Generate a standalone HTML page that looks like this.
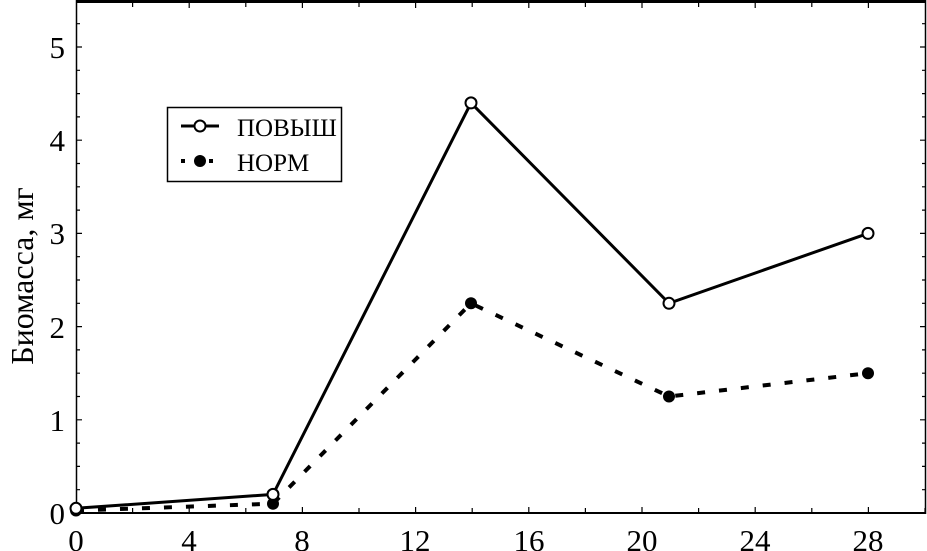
<!DOCTYPE html>
<html><head><meta charset="utf-8"><style>
html,body{margin:0;padding:0;background:#fff;}
svg{display:block;}
text{font-family:"Liberation Serif","DejaVu Serif",serif;fill:#000;}
</style></head><body>
<svg width="927" height="551" viewBox="0 0 927 551" xmlns="http://www.w3.org/2000/svg">
<line x1="76" y1="1.5" x2="926" y2="1.5" stroke="#000" stroke-width="3"/>
<line x1="76.5" y1="0" x2="76.5" y2="514" stroke="#000" stroke-width="1.5"/>
<line x1="925.5" y1="0" x2="925.5" y2="514" stroke="#000" stroke-width="1.5"/>
<line x1="76" y1="513" x2="926" y2="513" stroke="#000" stroke-width="2"/>
<g stroke="#000" stroke-width="1.2">
<path d="M132.6 513v-5M189.2 513v-6M245.8 513v-5M302.4 513v-6M359 513v-5M415.6 513v-6M472.2 513v-5M528.8 513v-6M585.4 513v-5M642 513v-6M698.6 513v-5M755.2 513v-6M811.8 513v-5M868.4 513v-6M925 513v-5"/>
<path d="M132.6 2v5M189.2 2v6M245.8 2v5M302.4 2v6M359 2v5M415.6 2v6M472.2 2v5M528.8 2v6M585.4 2v5M642 2v6M698.6 2v5M755.2 2v6M811.8 2v5M868.4 2v6"/>
<path d="M76 489.7h4M76 466.4h4M76 443.1h4M76 419.8h6M76 396.5h4M76 373.2h4M76 349.9h4M76 326.6h6M76 303.3h4M76 280h4M76 256.7h4M76 233.4h6M76 210.1h4M76 186.8h4M76 163.5h4M76 140.2h6M76 116.9h4M76 93.6h4M76 70.3h4M76 47h6M76 23.7h4"/>
<path d="M926 489.7h-4M926 466.4h-4M926 443.1h-4M926 419.8h-6M926 396.5h-4M926 373.2h-4M926 349.9h-4M926 326.6h-6M926 303.3h-4M926 280h-4M926 256.7h-4M926 233.4h-6M926 210.1h-4M926 186.8h-4M926 163.5h-4M926 140.2h-6M926 116.9h-4M926 93.6h-4M926 70.3h-4M926 47h-6M926 23.7h-4"/>
</g>
<g font-size="31" text-anchor="end">
<text x="65" y="524">0</text>
<text x="65" y="431">1</text>
<text x="65" y="338">2</text>
<text x="65" y="244">3</text>
<text x="65" y="151">4</text>
<text x="65" y="58">5</text>
</g>
<g font-size="31" text-anchor="middle">
<text x="76" y="551">0</text>
<text x="189" y="551">4</text>
<text x="302" y="551">8</text>
<text x="415" y="551">12</text>
<text x="529" y="551">16</text>
<text x="642" y="551">20</text>
<text x="755" y="551">24</text>
<text x="868" y="551">28</text>
</g>
<text transform="translate(33,276) rotate(-90)" font-size="32" text-anchor="middle">Биомасса, мг</text>
<polyline points="76,510.5 273,503.7 471,303.3 669,396.5 868,373.2" fill="none" stroke="#000" stroke-width="4" stroke-dasharray="8,14"/>
<polyline points="76,508.3 273,494.4 471,102.9 669,303.3 868,233.4" fill="none" stroke="#000" stroke-width="3"/>
<g fill="#000">
<circle cx="76" cy="510.5" r="6"/><circle cx="273" cy="503.7" r="6"/><circle cx="471" cy="303.3" r="6"/><circle cx="669" cy="396.5" r="6"/><circle cx="868" cy="373.2" r="6"/>
</g>
<g fill="#fff" stroke="#000" stroke-width="2">
<circle cx="76" cy="508.3" r="5.5"/><circle cx="273" cy="494.4" r="5.5"/><circle cx="471" cy="102.9" r="5.5"/><circle cx="669" cy="303.3" r="5.5"/><circle cx="868" cy="233.4" r="5.5"/>
</g>
<rect x="167.5" y="107.5" width="174" height="74" fill="#fff" stroke="#000" stroke-width="1.5"/>
<line x1="181" y1="126" x2="219" y2="126" stroke="#000" stroke-width="3"/>
<circle cx="200" cy="126" r="5.5" fill="#fff" stroke="#000" stroke-width="2"/>
<line x1="181" y1="161" x2="219" y2="161" stroke="#000" stroke-width="4" stroke-dasharray="4,10"/>
<circle cx="200" cy="161" r="6" fill="#000"/>
<text x="237" y="136" font-size="25">ПОВЫШ</text>
<text x="237" y="171" font-size="25">НОРМ</text>
</svg>
</body></html>
